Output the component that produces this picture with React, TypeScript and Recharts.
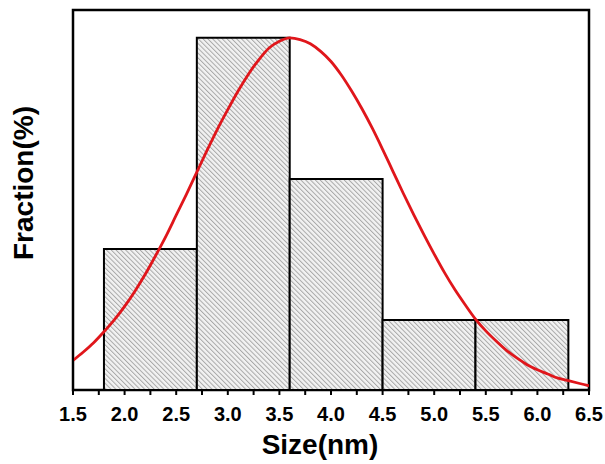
import React from 'react';
import { ComposedChart, Line, XAxis, YAxis, ReferenceArea } from 'recharts';

// Histogram bins (nm) and fraction (%)
const binStarts = [1.8, 2.7, 3.6, 4.5, 5.4];
const binEnds = [2.7, 3.6, 4.5, 5.4, 6.3];
const binFractions = [16.7, 41.7, 25.0, 8.3, 8.3];

// Fitted curve
const fitX = [
  1.5, 1.6, 1.7, 1.8, 1.9, 2.0, 2.1, 2.2, 2.3, 2.4, 2.5, 2.6, 2.7, 2.8, 2.9, 3.0, 3.1,
  3.2, 3.3, 3.4, 3.5, 3.6, 3.7, 3.8, 3.9, 4.0, 4.1, 4.2, 4.3, 4.4, 4.5, 4.6, 4.7, 4.8,
  4.9, 5.0, 5.1, 5.2, 5.3, 5.4, 5.5, 5.6, 5.7, 5.8, 5.9, 6.0, 6.1, 6.2, 6.3, 6.4, 6.5,
];
const fitY = [
  3.5, 4.5, 5.6, 6.9, 8.3, 9.9, 11.7, 13.7, 15.9, 18.2, 20.7, 23.2, 25.8, 28.4, 30.9, 33.2, 35.4,
  37.4, 39.1, 40.5, 41.3, 41.7, 41.5, 41.0, 40.1, 38.9, 37.3, 35.4, 33.3, 31.0, 28.5, 25.9, 23.3, 20.8,
  18.4, 16.1, 13.9, 11.9, 10.1, 8.4, 7.0, 5.8, 4.7, 3.8, 3.0, 2.4, 1.9, 1.4, 1.1, 0.8, 0.5,
];

const xTicks = [
  1.5, 1.75, 2.0, 2.25, 2.5, 2.75, 3.0, 3.25, 3.5, 3.75, 4.0, 4.25, 4.5, 4.75, 5.0, 5.25,
  5.5, 5.75, 6.0, 6.25, 6.5,
];
const xTickLabels = ['1.5', '2.0', '2.5', '3.0', '3.5', '4.0', '4.5', '5.0', '5.5', '6.0', '6.5'];

const xDomain = [1.5, 6.5];
const yDomain = [0, 45];

const curveData = fitX.map((x, i) => ({ x, y: fitY[i] }));

const FONT = "'Liberation Sans', Arial, sans-serif";

const formatTick = (v: number) => {
  const k = (v - 1.5) * 2;
  const i = Math.round(k);
  return Math.abs(k - i) < 1e-6 ? xTickLabels[i] : '';
};

const XLabel = (props: any) => {
  const vb = props.viewBox || {};
  return (
    <text
      x={vb.x + vb.width / 2 - 11}
      y={vb.y + 64}
      textAnchor="middle"
      fontFamily={FONT}
      fontWeight="bold"
      fontSize={28}
      fill="#000"
    >
      Size(nm)
    </text>
  );
};

const YLabel = (props: any) => {
  const vb = props.viewBox || {};
  const x = vb.x + 33;
  const y = vb.y + vb.height / 2 - 17;
  return (
    <text
      x={x}
      y={y}
      transform={`rotate(-90, ${x}, ${y})`}
      textAnchor="middle"
      fontFamily={FONT}
      fontWeight="bold"
      fontSize={28}
      fill="#000"
    >
      Fraction(%)
    </text>
  );
};

export default function App() {
  return (
    <div style={{ position: 'absolute', left: 0, top: 0, width: 605, height: 464, background: '#fff' }}>
      <ComposedChart
        width={605}
        height={464}
        data={curveData}
        margin={{ top: 10, right: 16, bottom: 0, left: 0 }}
      >
        <defs>
          <pattern
            id="hatch"
            patternUnits="userSpaceOnUse"
            width={3.4}
            height={10}
            patternTransform="rotate(-45)"
          >
            <rect x={0} y={0} width={3.4} height={10} fill="#f2f2f2" />
            <line x1={0.5} y1={0} x2={0.5} y2={10} stroke="#a8a8a8" strokeWidth={1} />
          </pattern>
        </defs>
        <XAxis
          dataKey="x"
          type="number"
          domain={xDomain}
          ticks={xTicks}
          interval={0}
          tickFormatter={formatTick}
          allowDataOverflow
          height={74}
          axisLine={{ stroke: '#000', strokeWidth: 2 }}
          tickLine={{ stroke: '#000', strokeWidth: 2 }}
          tickSize={5}
          tickMargin={12}
          tick={{ fill: '#000', fontFamily: FONT, fontWeight: 'bold', fontSize: 20 }}
          label={<XLabel />}
        />
        <YAxis
          type="number"
          domain={yDomain}
          width={73}
          tick={false}
          tickLine={false}
          axisLine={{ stroke: '#000', strokeWidth: 2 }}
          label={<YLabel />}
        />
        <ReferenceArea
          x1={xDomain[0]}
          x2={xDomain[1]}
          y1={yDomain[0]}
          y2={yDomain[1]}
          fill="none"
          stroke="#000"
          strokeWidth={2.5}
          ifOverflow="visible"
        />
        {binStarts.map((s, i) => (
          <ReferenceArea
            key={i}
            x1={s}
            x2={binEnds[i]}
            y1={0}
            y2={binFractions[i]}
            fill="url(#hatch)"
            fillOpacity={1}
            stroke="#000"
            strokeWidth={2}
          />
        ))}
        <Line
          dataKey="y"
          type="monotone"
          stroke="#e0161b"
          strokeWidth={2.8}
          dot={false}
          activeDot={false}
          isAnimationActive={false}
        />
      </ComposedChart>
    </div>
  );
}
